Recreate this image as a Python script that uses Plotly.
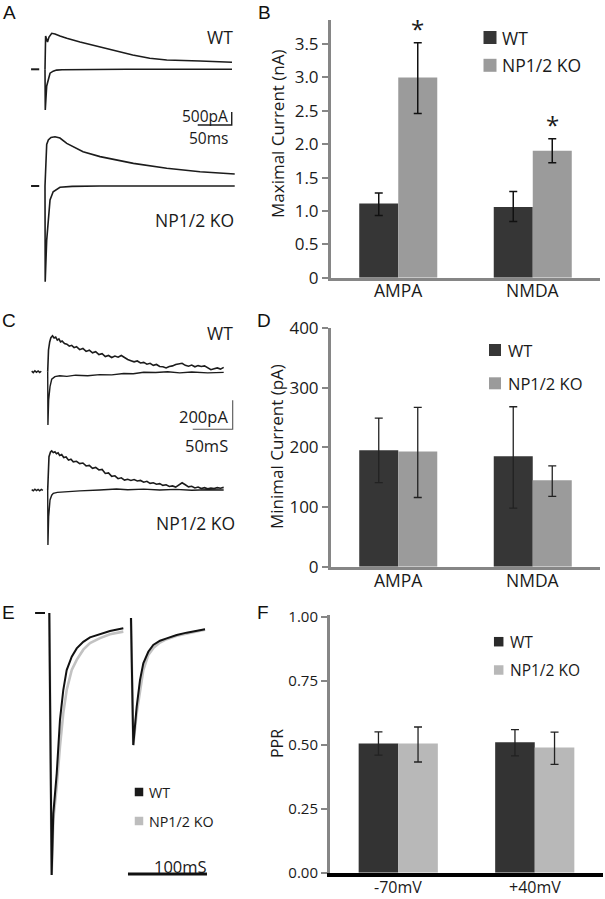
import plotly.graph_objects as go

W, H = 605, 899
FONT = "Open Sans"
LETTER_FONT = "Liberation Sans"

# ---------------- data ----------------
# Panel A traces (t in ms after stimulus, current in pA)
A_WT_OUT_T = [0, 0.9, 3.7, 5.9, 9.9, 14.7, 22, 32, 51.5, 66, 81, 103, 129, 154, 179, 228, 275]
A_WT_OUT_I = [0, 1280, 1050, 1240, 1385, 1360, 1280, 1190, 1050, 955, 870, 725, 550, 425, 360, 320, 270]
A_WT_IN_T = [0, 0.4, 2.5, 4.9, 7.4, 12, 17, 25, 40, 70, 120, 200, 275]
A_WT_IN_I = [0, -1565, -640, -330, -150, -70, -30, -15, -8, -3, 0, 0, 0]
A_KO_OUT_T = [0, 1.2, 2.5, 4.9, 8.8, 14.7, 22, 32, 56, 81, 130, 179, 228, 279]
A_KO_OUT_I = [0, 1350, 1600, 1770, 1865, 1895, 1845, 1640, 1320, 1130, 870, 680, 550, 460]
A_KO_IN_T = [0, 0.3, 2.5, 4.9, 7.4, 12, 22, 40, 80, 160, 279]
A_KO_IN_I = [0, -3680, -2080, -1180, -540, -220, -50, -15, 0, 0, 0]
A_DASH_T = [-20.5, -8.5]
A_DASH_I = [0, 0]
A_SCALE = (50, 500)  # ms, pA

# Panel C traces (t in ms, current in pA)
C_WT_OUT_T = [0, 1, 2.5, 4, 6, 8, 10, 12, 14, 16, 18, 21, 24, 27, 30, 33, 36, 40, 44, 48, 52, 56, 60, 64,
              68, 72, 76, 80, 84, 88, 92, 96, 100, 104, 108, 112, 116, 120, 124, 128, 132, 136, 140, 144,
              148, 152, 156, 160, 164, 168, 172, 176, 180, 184, 188, 192, 196, 200, 204, 208, 212, 216, 220]
C_WT_OUT_I = [0, 150, 205, 235, 248, 232, 238, 218, 226, 205, 212, 194, 190, 176, 182, 166, 172, 152, 160, 140,
              148, 130, 138, 118, 124, 104, 112, 98, 108, 100, 112, 96, 84, 76, 68, 74, 60, 64, 52, 58, 44, 50,
              36, 34, 26, 36, 40, 50, 56, 58, 44, 38, 46, 34, 42, 36, 40, 26, 14, 20, 26, 18, 30]
C_WT_IN_T = [0, 0.3, 1.2, 2.9, 5, 9, 15, 24, 35, 50, 65, 80, 95, 107, 120, 135, 150, 165, 180, 200, 220]
C_WT_IN_I = [0, -368, -195, -103, -52, -34, -28, -32, -24, -28, -20, -22, -12, -14, -4, -6, 0, -8, -2, -8, -5]
C_WT_DASH_T = [-20, -18, -16, -14, -12, -10, -8]
C_WT_DASH_I = [4, -6, 6, -4, 5, -5, 3]
C_KO_OUT_T = [0, 1.6, 3.5, 5, 7, 9, 11, 13, 15, 17.5, 20, 23, 26, 29, 32, 36, 40, 44, 48, 52, 56, 60, 64, 68,
              72, 76, 80, 84, 88, 92, 96, 100, 104, 108, 112, 116, 120, 124, 128, 132, 136, 140, 144, 148,
              152, 156, 160, 164, 168, 172, 176, 180, 184, 188, 192, 196, 200, 204, 208, 212, 216, 220]
C_KO_OUT_I = [0, 230, 262, 270, 258, 264, 250, 256, 238, 244, 224, 228, 206, 212, 194, 198, 182, 186, 166, 170,
              150, 156, 138, 142, 114, 118, 94, 98, 78, 84, 68, 74, 66, 72, 62, 66, 54, 60, 46, 50, 40, 44, 32,
              36, 24, 28, 20, 34, 50, 36, 22, 26, 14, 20, 10, 16, 8, 14, 10, 16, 12, 18]
C_KO_IN_T = [0, 0.3, 1.2, 2.9, 5, 7, 12, 24, 40, 65, 86, 100, 120, 140, 160, 180, 200, 220]
C_KO_IN_I = [0, -379, -184, -69, -36, -23, -16, -11, -6, 0, 7, 2, 6, 0, 4, -2, 2, 0]
C_KO_DASH_T = [-20, -18, -16, -14, -12, -10, -8, -6]
C_KO_DASH_I = [3, -5, 5, -4, 4, -5, 4, -2]
C_SCALE = (50, 200)  # ms, pA

# Panel E traces (t in ms, normalised current)
E_WT_T = [0, 3.0, 5.1, 9.4, 13.5, 17.7, 22, 28.4, 34.7, 43, 51.5, 64.2, 76.8, 93.7]
E_WT_I = [0, -1.0, -0.765, -0.612, -0.408, -0.294, -0.218, -0.167, -0.135, -0.110, -0.093, -0.080, -0.069, -0.058]
E_KO_T = [0, 3.0, 5.1, 9.4, 13.5, 17.7, 22, 28.4, 34.7, 43, 51.5, 64.2, 76.8, 93.7]
E_KO_I = [0, -1.0, -0.79, -0.662, -0.509, -0.382, -0.294, -0.217, -0.179, -0.140, -0.115, -0.096, -0.081, -0.071]
E_WT2_T = [103.4, 106.3, 110.6, 114.8, 119, 125.3, 131.6, 140.1, 148.6, 161.3, 173.9, 186.6, 197.1]
E_WT2_I = [-0.019, -0.504, -0.358, -0.256, -0.192, -0.148, -0.122, -0.106, -0.097, -0.084, -0.075, -0.068, -0.062]
E_KO2_T = [103.4, 106.3, 110.6, 114.8, 119, 125.3, 131.6, 140.1, 148.6, 161.3, 173.9, 186.6, 197.1]
E_KO2_I = [-0.019, -0.504, -0.383, -0.294, -0.218, -0.160, -0.134, -0.113, -0.100, -0.087, -0.078, -0.070, -0.064]
E_DASH_T = [-18, -5.4]
E_DASH_I = [0, 0]
E_SCALE_MS = 100

# Panel B: maximal current (nA)
B_CATS = ["AMPA", "NMDA"]
B_WT = [1.11, 1.06]
B_WT_UP = [0.16, 0.23]
B_WT_DN = [0.18, 0.22]
B_KO = [3.00, 1.90]
B_KO_UP = [0.52, 0.18]
B_KO_DN = [0.54, 0.18]
B_TICKS = [0, 0.5, 1.0, 1.5, 2.0, 2.5, 3.0, 3.5]
B_TICKTEXT = ["0", "0.5", "1.0", "1.5", "2.0", "2.5", "3.0", "3.5"]

# Panel D: minimal current (pA)
D_CATS = ["AMPA", "NMDA"]
D_WT = [195, 185]
D_WT_UP = [54, 83]
D_WT_DN = [54, 87]
D_KO = [193, 145]
D_KO_UP = [74, 24]
D_KO_DN = [77, 27]
D_TICKS = [0, 100, 200, 300, 400]
D_TICKTEXT = ["0", "100", "200", "300", "400"]

# Panel F: PPR
F_CATS = ["-70mV", "+40mV"]
F_WT = [0.505, 0.51]
F_WT_UP = [0.046, 0.05]
F_WT_DN = [0.045, 0.053]
F_KO = [0.505, 0.49]
F_KO_UP = [0.065, 0.06]
F_KO_DN = [0.072, 0.066]
F_TICKS = [0, 0.25, 0.5, 0.75, 1.0]
F_TICKTEXT = ["0.00", "0.25", "0.50", "0.75", "1.00"]

SERIES = ["WT", "NP1/2 KO"]

# ---------------- figure ----------------
fig = go.Figure()
layout = dict(width=W, height=H, margin=dict(l=0, r=0, t=0, b=0, autoexpand=False),
              paper_bgcolor="white", plot_bgcolor="white", showlegend=False,
              barmode="group", bargap=0.42, bargroupgap=0)
annotations = []
shapes = []


def names(i):
    return ("x", "y") if i == 1 else (f"x{i}", f"y{i}")


def axkeys(i):
    return ("xaxis", "yaxis") if i == 1 else (f"xaxis{i}", f"yaxis{i}")


def trace_axes(i, xbox, ybox, x0px, xscale, y0px, yscale):
    xk, yk = axkeys(i)
    xn, yn = names(i)
    layout[xk] = dict(domain=[xbox[0] / W, xbox[1] / W],
                      range=[(xbox[0] - x0px) / xscale, (xbox[1] - x0px) / xscale],
                      visible=False, fixedrange=True, anchor=yn, automargin=False)
    layout[yk] = dict(domain=[1 - ybox[1] / H, 1 - ybox[0] / H],
                      range=[(y0px - ybox[1]) / yscale, (y0px - ybox[0]) / yscale],
                      visible=False, fixedrange=True, anchor=xn, automargin=False)


def line(i, t, v, color="#1c1c1c", width=1.6):
    xn, yn = names(i)
    fig.add_trace(go.Scatter(x=t, y=v, mode="lines", xaxis=xn, yaxis=yn,
                             line=dict(color=color, width=width), hoverinfo="skip"))


def text(x, y, s, size, xanchor="center", family=FONT, color="#1a1a1a", angle=0, pad=1):
    annotations.append(dict(x=x / W, y=1 - y / H, xref="paper", yref="paper", text=s,
                            showarrow=False, xanchor=xanchor, yanchor="middle", textangle=angle,
                            borderpad=pad, font=dict(size=size, family=family, color=color)))


def square(cx, cy, s, color):
    shapes.append(dict(type="rect", xref="paper", yref="paper",
                       x0=(cx - s / 2) / W, x1=(cx + s / 2) / W,
                       y0=1 - (cy + s / 2) / H, y1=1 - (cy - s / 2) / H,
                       fillcolor=color, line=dict(width=0)))


# ---- Panel A ----
trace_axes(1, (0, 260), (18, 130), 45, 0.68, 69.3, 0.026)
trace_axes(2, (0, 260), (130, 298), 45, 0.68, 186, 0.026)
line(1, A_WT_OUT_T, A_WT_OUT_I)
line(1, A_WT_IN_T, A_WT_IN_I)
line(1, A_DASH_T, A_DASH_I, width=2)
line(2, A_KO_OUT_T, A_KO_OUT_I)
line(2, A_KO_IN_T, A_KO_IN_I)
line(2, A_DASH_T, A_DASH_I, width=2)
# scale bar (anchored at corner t=274.6 ms, I=-2142 pA)
sbx, sby = 274.6, -2142
line(1, [sbx - A_SCALE[0], sbx, sbx], [sby, sby, sby + A_SCALE[1]], width=1.4)
text(235, 37, "WT", 17.5, "right")
text(229, 116, "500pA", 15.5, "right", pad=0)
text(208, 138, "50ms", 15.5, pad=0)
text(236, 220, "NP1/2 KO", 17.5, "right")

# ---- Panel C ----
trace_axes(3, (0, 260), (318, 440), 47.7, 0.8, 371.7, 0.145)
trace_axes(4, (0, 260), (440, 560), 47.7, 0.8, 490, 0.145)
line(3, C_WT_OUT_T, C_WT_OUT_I, width=1.6)
line(3, C_WT_IN_T, C_WT_IN_I, width=1.4)
line(3, C_WT_DASH_T, C_WT_DASH_I, width=1.5)
line(4, C_KO_OUT_T, C_KO_OUT_I, width=1.6)
line(4, C_KO_IN_T, C_KO_IN_I, width=1.4)
line(4, C_KO_DASH_T, C_KO_DASH_I, width=1.5)
scx, scy = 231.25, -397
line(3, [scx - C_SCALE[0], scx, scx], [scy, scy, scy + C_SCALE[1]], color="#555", width=1.1)
text(235, 333, "WT", 17.5, "right")
text(229, 416, "200pA", 16.5, "right", pad=0)
text(206, 445, "50mS", 16.5, pad=0)
text(237, 523, "NP1/2 KO", 17.5, "right")

# ---- Panel E ----
trace_axes(5, (0, 260), (598, 892), 49.3, 0.79, 613, 262)
line(5, E_KO_T, E_KO_I, color="#c2c2c2", width=2.6)
line(5, E_KO2_T, E_KO2_I, color="#c2c2c2", width=2.6)
line(5, E_WT_T, E_WT_I, color="#111111", width=2)
line(5, E_WT2_T, E_WT2_I, color="#111111", width=2)
line(5, E_DASH_T, E_DASH_I, color="#111111", width=2)
sex, sey = 99.6, -0.996
line(5, [sex, sex + E_SCALE_MS], [sey, sey], color="#111111", width=3)
text(180, 866, "100mS", 16.5, pad=0)
square(139, 792, 8.5, "#1a1a1a")
square(139, 821, 8.5, "#bdbdbd")
text(147, 792, SERIES[0], 14.3, "left")
text(147, 821, SERIES[1], 14.3, "left")


# ---- Bar panels ----
def bar_axes(i, xbox, ybox, yrange, tickvals, ticktext, cats, label_y, label_size,
             xline_color="#868686", xline_width=3, tfs=17):
    xk, yk = axkeys(i)
    xn, yn = names(i)
    layout[xk] = dict(domain=[xbox[0] / W, xbox[1] / W], type="category", range=[-0.5, 1.5],
                      categoryorder="array", categoryarray=cats,
                      showline=True, linecolor=xline_color, linewidth=xline_width, ticks="",
                      showticklabels=False,
                      showgrid=False, zeroline=False, fixedrange=True, anchor=yn, automargin=False)
    layout[yk] = dict(domain=[1 - ybox[1] / H, 1 - ybox[0] / H], range=yrange,
                      showline=True, linecolor="#868686", linewidth=3, ticks="outside",
                      ticklen=6, tickwidth=1.5, tickcolor="#868686",
                      tickvals=tickvals, ticktext=ticktext, showgrid=False, zeroline=False,
                      fixedrange=True, anchor=xn, automargin=False,
                      tickfont=dict(size=tfs, family=FONT, color="#1a1a1a"))
    # category labels below the axis
    for c in cats:
        annotations.append(dict(x=c, xref=xn, y=1 - label_y / H, yref="paper", text=c,
                                showarrow=False, xanchor="center", yanchor="middle", borderpad=0,
                                font=dict(size=label_size, family=FONT, color="#1a1a1a")))


def bars(i, cats, vals, up, dn, color, ecolor="#111", ewidth=1.5):
    xn, yn = names(i)
    fig.add_trace(go.Bar(x=cats, y=vals, xaxis=xn, yaxis=yn,
                         marker=dict(color=color, line=dict(width=0)),
                         error_y=dict(type="data", symmetric=False, array=up, arrayminus=dn,
                                      color=ecolor, thickness=ewidth, width=4),
                         hoverinfo="skip"))


# B
bar_axes(6, (331, 600), (20, 277.7), [0, 3.86], B_TICKS, B_TICKTEXT, B_CATS, 290, 17.5)
bars(6, B_CATS, B_WT, B_WT_UP, B_WT_DN, "#363636")
bars(6, B_CATS, B_KO, B_KO_UP, B_KO_DN, "#9b9b9b")
for k, c in enumerate(B_CATS):
    annotations.append(dict(x=k + 0.145, y=B_KO[k] + B_KO_UP[k], xref="x6", yref="y6", text="*",
                            showarrow=False, yanchor="bottom", yshift=-4,
                            font=dict(size=24, family=FONT, color="#1a1a1a")))
square(490, 37.5, 13, "#363636")
square(490, 65.3, 13, "#9b9b9b")
text(500, 37.5, SERIES[0], 17.5, "left")
text(500, 65.3, SERIES[1], 17.5, "left")
text(277, 134, "Maximal Current (nA)", 17, angle=-90)

# D
bar_axes(7, (331, 600), (328, 566.7), [0, 400], D_TICKS, D_TICKTEXT, D_CATS, 580, 17.5)
bars(7, D_CATS, D_WT, D_WT_UP, D_WT_DN, "#363636", ecolor="#222", ewidth=1.3)
bars(7, D_CATS, D_KO, D_KO_UP, D_KO_DN, "#9b9b9b", ecolor="#222", ewidth=1.3)
square(495, 350, 12, "#363636")
square(495, 383.3, 12, "#9b9b9b")
text(506, 350, SERIES[0], 16.5, "left")
text(506, 383.3, SERIES[1], 16.5, "left")
text(277, 447, "Minimal Current (pA)", 17, angle=-90)

# F
bar_axes(8, (330, 603), (615, 872.7), [0, 1.008], F_TICKS, F_TICKTEXT, F_CATS, 887, 16,
         xline_color="#000000", xline_width=4, tfs=15)
bars(8, F_CATS, F_WT, F_WT_UP, F_WT_DN, "#333333", ecolor="#222", ewidth=1.3)
bars(8, F_CATS, F_KO, F_KO_UP, F_KO_DN, "#b8b8b8", ecolor="#222", ewidth=1.3)
square(498.7, 641.7, 9.5, "#2a2a2a")
square(498.7, 670, 9.5, "#b8b8b8")
text(508, 641.7, SERIES[0], 15.5, "left")
text(508, 670, SERIES[1], 15.5, "left")
text(277, 744, "PPR", 16, angle=-90)

# panel letters
for lab, x, y in [("A", 9, 12), ("B", 264, 12), ("C", 9, 320), ("D", 264, 320), ("E", 8, 612), ("F", 263, 612)]:
    text(x, y, lab, 19, family=LETTER_FONT, color="#111")

layout["annotations"] = annotations
layout["shapes"] = shapes
fig.update_layout(**layout)
fig.write_html("out.html", config={"displayModeBar": False},
               post_script="document.body.style.margin='0';document.body.style.overflow='hidden';")
